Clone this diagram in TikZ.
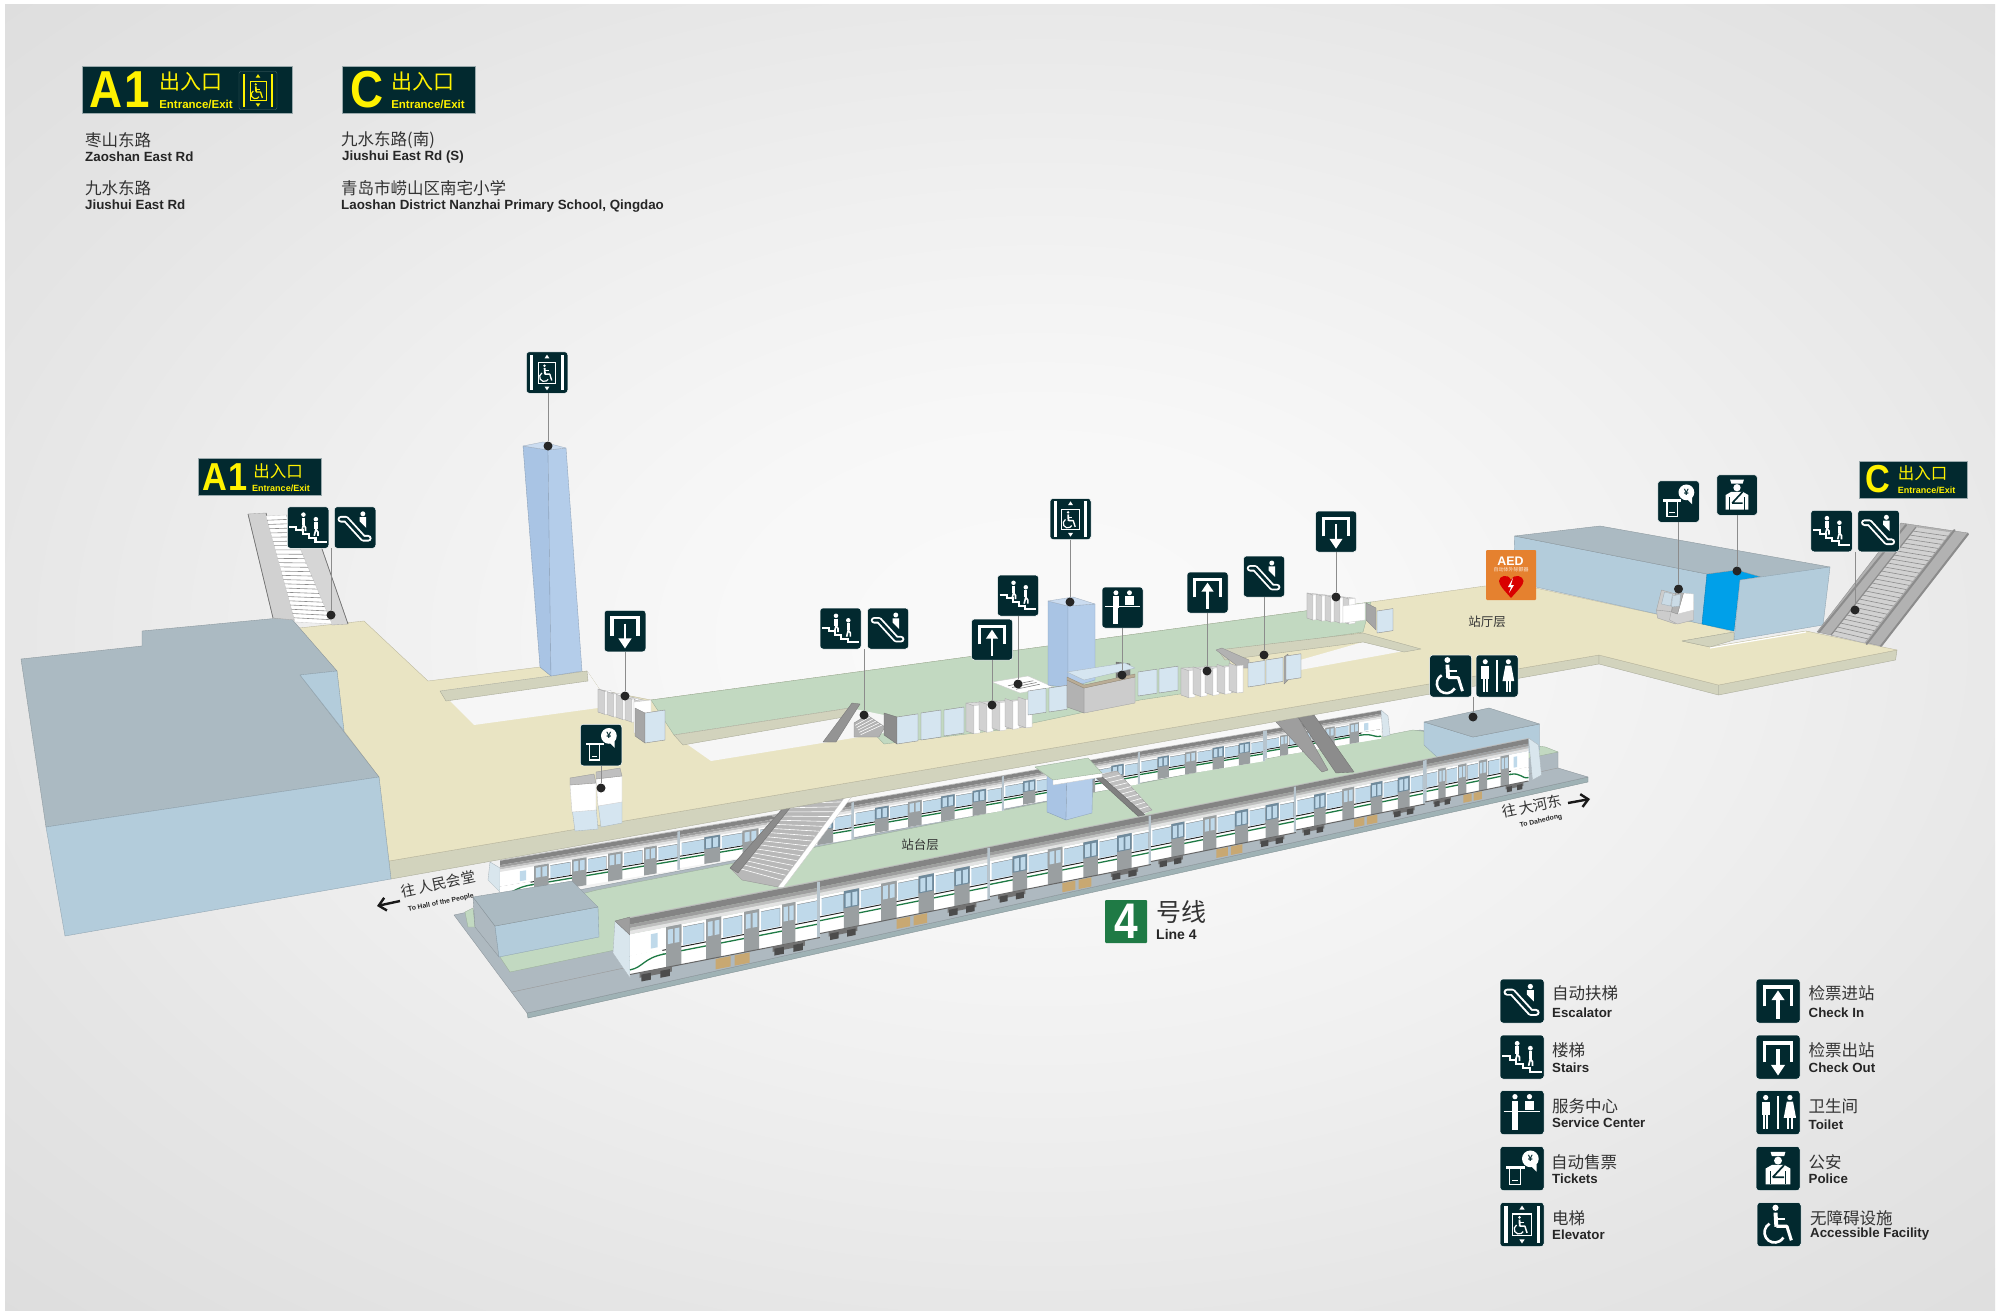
\documentclass[tikz,border=0pt]{standalone}
\usepackage{fontspec}
\setmainfont{Liberation Sans}
\newfontfamily\cjk{Noto Sans CJK SC}
\usetikzlibrary{arrows.meta,calc}
\definecolor{roofc}{HTML}{ABBAC2}
\definecolor{facec}{HTML}{B3CCDB}
\definecolor{floorc}{HTML}{E9E4C3}
\definecolor{floorside}{HTML}{D2D3BD}
\definecolor{greenc}{HTML}{C2D9C1}
\definecolor{elevc}{HTML}{A9C4E4}
\definecolor{elevb}{HTML}{B4CDEA}
\definecolor{signdark}{HTML}{02292F}
\definecolor{bedc}{HTML}{AEB9C0}
\definecolor{bedside}{HTML}{9FB2B5}
\definecolor{holec}{HTML}{F6F6F6}
\definecolor{winb}{HTML}{BFD9EA}
\definecolor{doorg}{HTML}{9A9FA1}
\definecolor{doorb}{HTML}{6F8A9C}
\definecolor{r1}{HTML}{BEBEBE}
\definecolor{r2}{HTML}{848484}
\definecolor{r3}{HTML}{9E9E9E}
\definecolor{r4}{HTML}{C0C0C0}
\definecolor{r5}{HTML}{E4E4E4}
\definecolor{linegreen}{HTML}{1F7A45}
\definecolor{ylw}{HTML}{FFF200}
\definecolor{boxbrown}{HTML}{C8A872}
\definecolor{glassc}{HTML}{D5E5F0}
\definecolor{aedc}{HTML}{E5812F}
\definecolor{blueop}{HTML}{00A0E9}
\colorlet{icf}{white}
\colorlet{icb}{signdark}
\pgfdeclareradialshading{bgsh}{\pgfpoint{0bp}{0bp}}{color(0bp)=(white!98!black); color(8bp)=(white!97!black); color(16bp)=(white!94!black); color(25bp)=(white!90!black); color(36bp)=(white!86!black); color(50bp)=(white!86!black)}
\tikzset{
  signbox/.style={fill=signdark,draw=white,line width=.5pt,rounded corners=3pt,inner sep=0pt,outer sep=0pt},
  wl/.style={line width=#1*\icu pt},
  leader/.style={draw=black!45,line width=.6pt},
  dotm/.style={circle,fill=black!85,minimum size=9pt,inner sep=0pt},
  ent/.style={fill=signdark,draw=white!60!signdark,line width=.3pt,inner sep=0pt},
  cn/.style={font=\cjk\fontsize{#1}{#1}\selectfont,inner sep=0pt,text=black!80},
  en/.style={font=\bfseries\fontsize{#1}{#1}\selectfont,inner sep=0pt,text=black!85},
  ycn/.style={font=\cjk\fontsize{#1}{#1}\selectfont,inner sep=0pt,text=ylw},
  yen/.style={font=\bfseries\fontsize{#1}{#1}\selectfont,inner sep=0pt,text=ylw},
}
\newcommand\pl[2]{\colorlet{pga}{#1}\colorlet{pgb}{pga!80!black}\filldraw[fill=pga,draw=pgb,line width=.35pt,line join=round] #2 -- cycle;}
\newcommand\qd[5]{\fill[#1] (#2,#3)--(#4,#3)--(#4,#5)--(#2,#5)--cycle;}
% ---- icons
\newcommand\iesc{%
 \draw[icf,wl=16,line join=round,line cap=round] (-34,-20)--(-22,-20)--(20,26)--(32,26);
 \draw[icb,wl=7,line join=round,line cap=round] (-34,-20)--(-22,-20)--(20,26)--(32,26);
 \fill[icf] (19,-33) circle (6);
 \fill[icf] (11,-25)--(27,-25)--(27,1)--(11,-15)--cycle;}
\newcommand\iwalk[2]{%
 \fill[icf] (#1,{#2-22}) circle (5.5);
 \draw[icf,wl=8] (#1,{#2-15})--(#1,{#2+2});
 \draw[icf,wl=4] (#1,{#2+2})--({#1-4},{#2+18}) (#1,{#2+2})--({#1+5},{#2+9})--({#1+5},{#2+18});}
\newcommand\istr{%
 \draw[icf,wl=5] (-45,-2)--(-28,-2)--(-28,7)--(-13,7)--(-13,16)--(2,16)--(2,25)--(18,25)--(18,34)--(45,34);
 \iwalk{-11}{-9}\iwalk{19}{2}}
\newcommand\iwc[1]{%
 \fill[icf] (-8,-38) circle (7);
 \draw[icf,line width=9*#1*\icu pt] (-8,-27)--(-6,5);
 \draw[icf,line width=7*#1*\icu pt,line join=round] (-6,4)--(18,4)--(28,36);
 \draw[icf,line width=5*#1*\icu pt] (-6,-12)--(14,-12);
 \draw[icf,line width=6*#1*\icu pt] ([shift={(240:23)}]-10,18) arc (240:30:23);}
\newcommand\iele{%
 \fill[icf] (-40,-43) rectangle (-33,43);
 \fill[icf] (33,-43) rectangle (40,43);
 \draw[icf,wl=2.5] (-21,-24) rectangle (21,26);
 \fill[icf] (0,-43)--(6,-34)--(-6,-34)--cycle;
 \fill[icf] (0,43)--(6,34)--(-6,34)--cycle;
 \begin{scope}[shift={(-2,2)},scale=.48]\iwc{.48}\end{scope}}
\newcommand\ifrm{\draw[icf,wl=8,line join=miter] (-31,12)--(-31,-32)--(31,-32)--(31,12);}
\newcommand\icin{\ifrm
 \draw[icf,wl=7] (0,40)--(0,-8);
 \fill[icf] (0,-24)--(15,-2)--(-15,-2)--cycle;}
\newcommand\icout{\ifrm
 \draw[icf,wl=7] (0,-18)--(0,22);
 \fill[icf] (0,42)--(-16,18)--(16,18)--cycle;}
\newcommand\isrv{%
 \fill[icf] (-16,-36) circle (6);
 \fill[icf] (-23,-27) rectangle (-9,2);
 \fill[icf] (-22,2) rectangle (-17,40);
 \fill[icf] (-15,2) rectangle (-10,40);
 \draw[icf,wl=3] (-42,-2)--(42,-2);
 \fill[icf] (17,-36) circle (6);
 \fill[icf] (7,-27) rectangle (27,-6);}
\newcommand\itlt{%
 \fill[icf] (-28,-34) circle (6);
 \fill[icf] (-37,-25) rectangle (-19,6);
 \fill[icf] (-34,6) rectangle (-29,38);
 \fill[icf] (-27,6) rectangle (-22,38);
 \draw[icf,wl=3] (0,-38)--(0,38);
 \fill[icf] (27,-34) circle (6);
 \fill[icf] (20,-25)--(34,-25)--(41,12)--(13,12)--cycle;
 \fill[icf] (21,12) rectangle (25.5,38);
 \fill[icf] (28.5,12) rectangle (33,38);}
\newcommand\ipol{%
 \fill[icf] (-14,-28)--(-17,-38)--(17,-38)--(14,-28)--cycle;
 \fill[icf] (0,-18) circle (9);
 \fill[icf] (-28,0)--(-14,-8)--(14,-8)--(28,0)--(28,36)--(-28,36)--cycle;
 \draw[icb,wl=4] (-12,20)--(14,-8) (-12,20)--(14,20);
 \draw[icb,wl=2.5] (-18,6)--(-18,36) (18,6)--(18,36);}
\newcommand\itvm{%
 \fill[icf] (-37,-6) rectangle (7,1);
 \draw[icf,wl=3] (-28,1)--(-28,36)--(-3,36)--(-3,1);
 \draw[icf,wl=2] (-22,27)--(-9,27);
 \fill[icf] (19,-22) circle (19);
 \fill[icf] (0,-26)--(33,-8)--(33,7)--cycle;
 \node[font=\bfseries\fontsize{9}{9}\selectfont,text=icb,inner sep=0pt] (\sgname-yen) at (19,-23) {¥};}
% sign: name, cx, cy, size, icon
\newcommand\sgn[5]{%
 \node[signbox,minimum width=#4 pt,minimum height=#4 pt] (#1) at (#2,#3) {};
 \def\sgname{#1}%
 \pgfmathsetmacro\icu{#4*.01}%
 \begin{scope}[shift={(#2,#3)},x=\icu pt,y=-\icu pt]#5\end{scope}}
% trains
\newcommand\tdoor[3]{%
 \pgfmathsetmacro\wa{#1+.12*(#2-#1)}\pgfmathsetmacro\wb{#1+.44*(#2-#1)}\pgfmathsetmacro\wc{#1+.56*(#2-#1)}\pgfmathsetmacro\wd{#1+.88*(#2-#1)}%
 \qd{doorg}{#1}{.30}{#2}{1}\qd{#3}{#1}{.30}{#2}{.62}\qd{winb}{\wa}{.35}{\wb}{.6}\qd{winb}{\wc}{.35}{\wd}{.6}}
\newcommand\twin[2]{\qd{winb}{#1}{.35}{#2}{.67}\draw[black!60,line width=.25pt] (#1,.35)--(#2,.35)--(#2,.67);}
\newcommand\tbody{%
 \qd{white}{0}{.30}{1}{1}%
 \qd{r1}{0}{0}{1}{.02}\qd{r2}{0}{.02}{1}{.13}\qd{r3}{0}{.13}{1}{.19}\qd{r4}{0}{.19}{1}{.24}\qd{r5}{0}{.24}{1}{.30}%
 \draw[black!85,line width=1pt] (0,.69)--(1,.69);
 \draw[linegreen,line width=1.3pt] (0,.76)--(1,.76);}
\newcommand\carreg{\tbody
 \twin{.01}{.14}\twin{.24}{.36}\twin{.46}{.58}\twin{.68}{.79}\twin{.89}{.985}%
 \tdoor{.14}{.23}{doorb}\tdoor{.36}{.45}{doorg}\tdoor{.58}{.67}{doorb}\tdoor{.79}{.88}{doorb}%
 \qd{doorb!50!white}{.985}{.03}{1}{1}}
\newcommand\carhead{\tbody
 \qd{white}{0}{.67}{.17}{1}%
 \draw[linegreen,line width=1.3pt] (0,.92) .. controls (.07,.92) and (.07,.76) .. (.18,.76);
 \qd{winb}{.11}{.37}{.145}{.62}%
 \twin{.28}{.39}\twin{.49}{.59}\twin{.69}{.79}\twin{.88}{.985}%
 \tdoor{.19}{.27}{doorg}\tdoor{.40}{.48}{doorg}\tdoor{.60}{.68}{doorg}\tdoor{.80}{.87}{doorg}%
 \qd{doorb!50!white}{.985}{.03}{1}{1}}
\newcommand\carund{%
 \draw[black!60,line width=1pt] (0,1)--(1,1);
 \qd{black!55}{.05}{1}{.22}{1.09}\qd{black!55}{.75}{1}{.92}{1.09}%
 \qd{black!70}{.06}{1.04}{.11}{1.16}\qd{black!70}{.16}{1.04}{.21}{1.16}\qd{black!70}{.76}{1.04}{.81}{1.16}\qd{black!70}{.86}{1.04}{.91}{1.16}%
 \qd{boxbrown}{.45}{1.02}{.53}{1.2}\qd{boxbrown}{.55}{1.02}{.63}{1.2}}
\newcommand\trcar[7]{%
 \pgfmathsetmacro\tdx{#4-#1}\pgfmathsetmacro\tdy{#5-#2}\pgfmathsetmacro\tth{(#3+#6)/2}%
 \begin{scope}[shift={(#1,#2)},x={(\tdx pt,-\tdy pt)},y={(0pt,-\tth pt)}]#7\end{scope}}
% stripes across a quad a,b,c,d: lines from a-d side to b-c side
\newcommand\stripes[6]{%
 \foreach \i in {1,...,#5}{\pgfmathsetmacro\tt{\i/(#5+1)}%
  \draw[#6,line width=.6pt] ($#1!\tt!#4$)--($#2!\tt!#3$);}}
\newcommand\gbank[8]{% x y n dx dy w1 w2 h
 \pgfmathsetmacro\Xe{#1+(#3-1)*#4+#6+#7}\pgfmathsetmacro\Ye{#2+(#3-1)*#5+#6*.35-#7*.15}%
 \pl{black!14}{(#1,#2)--(\Xe,\Ye)--(\Xe,{\Ye+#8})--(#1,{#2+#8})}
 \foreach \i in {1,...,#3}{%
  \pgfmathsetmacro\X{#1+(\i-1)*#4}\pgfmathsetmacro\Y{#2+(\i-1)*#5}%
  \pgfmathsetmacro\Xa{\X+#6}\pgfmathsetmacro\Ya{\Y+#6*.35}\pgfmathsetmacro\Xb{\Xa+#7}\pgfmathsetmacro\Yb{\Ya-#7*.15}%
  \pl{black!18}{(\X,\Y)--(\Xa,\Ya)--(\Xa,{\Ya+#8})--(\X,{\Y+#8})}
  \pl{white}{(\Xa,\Ya)--(\Xb,\Yb)--(\Xb,{\Yb+#8})--(\Xa,{\Ya+#8})}
 }}
\newcommand\gl[4]{\filldraw[fill=glassc,draw=black!45,line width=.4pt,line join=round] (#1,#2)--({#1+#3},{#2-.15*#3})--({#1+#3},{#2-.15*#3+#4})--(#1,{#2+#4})--cycle;}
\begin{document}
\begin{tikzpicture}[x=1pt,y=-1pt]
\useasboundingbox (0,0) rectangle (2000,1316);
\fill[white] (0,0) rectangle (2000,1316);
\begin{scope}
 \clip (5,5) rectangle (1995,1310);
 \shade[shading=bgsh] (-40,-60) rectangle (2120,1340);
\end{scope}
% ===== platform level
\pl{bedside}{(527,1013)--(528,1018)--(1588,782)--(1588,777)}
\pl{bedc}{(454,915)--(527,1013)--(1588,777)--(1558,768)--(1558,752)--(1420,730)--(500,905)}
\draw[black!40,line width=.4pt] (512,992)--(1558,768);
\pl{greenc}{(465,912)--(473,908)--(475,927)--(468,927)}
\pl{greenc}{(500,957)--(510,972)--(1558,752)--(1545.5,747)--(1413,730)--(597,890)--(500,915)}
% train 1
\pl{facec!50!white}{(490,862)--(488,880)--(500,892)--(500,868)}
\trcar{500}{860}{40}{680}{830}{39}{\carhead}
\trcar{680}{830}{39}{854}{801}{37}{\carreg}
\trcar{854}{801}{37}{1004}{775}{34}{\carreg}
\trcar{1004}{775}{34}{1140}{751}{32}{\carreg}
\trcar{1140}{751}{32}{1265}{730}{30}{\carreg}
\trcar{1381}{710}{27}{1265}{730}{30}{\carhead}
\pl{facec!50!white}{(1381,710)--(1388,716)--(1390,735)--(1383,737)}
% lower shaft
\pl{elevc}{(1047,768)--(1067,768)--(1066,820)--(1047,812)}
\pl{elevb}{(1067,768)--(1093,763)--(1092,813)--(1066,820)}
% small stair
\pl{white}{(1093,775)--(1117,771)--(1152,810)--(1140,816)}
\pl{black!25}{(1100,775)--(1117,771)--(1152,810)--(1143,813)}
\stripes{(1100,775)}{(1117,771)}{(1152,810)}{(1143,813)}{9}{white}
\pl{black!50}{(1093,775)--(1100,775)--(1145,815)--(1139,817)}
\pl{white}{(1035,767)--(1053,780)--(1053,785)--(1102,777)--(1102,773)}
\pl{greenc}{(1035,767)--(1088,758)--(1102,773)--(1053,780)}
% escalators platform - concourse right
\pl{black!38}{(1276,722)--(1298,717)--(1328,770)--(1322,772)}
\pl{black!45}{(1298,717)--(1314,715)--(1354,772)--(1336,773)}
% big stair
\pl{white}{(783,808)--(853,795)--(778,887)--(760,880)}
\pl{black!28}{(730,868)--(783,808)--(845,797)--(778,887)--(742,880)}
\stripes{(735,872)}{(778,885)}{(845,797)}{(783,800)}{17}{white}
\pl{black!45}{(730,868)--(785,806)--(790,808)--(738,873)}
\pl{white}{(778,887)--(845,797)--(853,795)--(783,888)}
% left platform box
\pl{bedc}{(473,897)--(495,926)--(499,957)--(475,927)}
\pl{facec}{(495,926)--(598,907)--(599,937)--(499,957)}
\pl{roofc}{(473,897)--(572,881)--(598,907)--(495,926)}
% right platform box
\pl{facec}{(1424,722)--(1473,737)--(1539.5,724)--(1539.5,750)--(1451,770)--(1424,745)}
\pl{roofc}{(1424,722)--(1489,708)--(1539.5,724)--(1473,737)}
% train 2
\pl{facec!50!white}{(615,921)--(613,953)--(630,978)--(630,935)}
\pl{r3}{(615,921)--(630,917)--(630,935)}
\trcar{630}{917}{60}{820}{880}{55}{\carhead\carund}
\trcar{820}{880}{55}{990}{846}{52}{\carreg\carund}
\trcar{990}{846}{52}{1151}{814}{49}{\carreg\carund}
\trcar{1151}{814}{49}{1296}{785}{46}{\carreg\carund}
\trcar{1296}{785}{46}{1425}{759}{44}{\carreg\carund}
\trcar{1528.5}{738}{42}{1425}{759}{44}{\carhead\carund}
\pl{facec!50!white}{(1528.5,738)--(1538.5,745)--(1541.5,775)--(1532.5,780)}
% ===== concourse floor
\pl{floorside}{(389,861)--(1599,655)--(1599,664)--(391,879)}
\pl{floorside}{(1599,655)--(1718.5,685)--(1718.5,695)--(1599,664)}
\pl{floorside}{(1718.5,685)--(1897,650)--(1895.5,660)--(1718.5,695)}
\pl{floorc}{(299,628)--(364,621)--(428,681)--(540,667)--(551,676)--(587,671)--(600,690)--(651,700)--(1371,602)--(1485,586)--(1535.5,588)--(1702,624)--(1734,632)--(1682,641)--(1710,647)--(1806,631)--(1897,650)--(1718.5,685)--(1599,655)--(389,861)--(379,777)--(344,731)--(337,671)}
% holes
\fill[holec] (440,691)--(474,725)--(598,708)--(600,690)--(587,671)--cycle;
\pl{floorside}{(440,691)--(587,671)--(588,681)--(446,701)}
\pl{greenc}{(651,700)--(1371,602)--(1363,632)--(1225,652)--(1240,685)--(1140,700)--(1085,712)--(1000,730)--(884,744)--(850,708)--(674,735)}
\fill[holec] (674,735)--(711,761)--(884,733)--(884,715)--(850,708)--cycle;
\pl{floorside}{(674,735)--(850,708)--(850,716)--(683,745)}
\fill[holec] (1300,660)--(1363,642)--(1404,651)--(1300,670)--cycle;
\pl{floorside}{(1218,650)--(1363,633)--(1421,649)--(1404,652)--(1363,642)--(1225,660)}
\pl{floorside}{(1682,641)--(1734,632)--(1734,640)--(1710,647)}
\draw[white,line width=1.2pt] (1710,648)--(1806,632);
% service stair hole
\pl{white}{(992,682)--(1028,676)--(1053,687)--(1020,693)}
\stripes{(1004,684)}{(1030,679)}{(1043,686)}{(1020,691)}{3}{black!50}
% escalator in hole 1
\pl{black!30}{(854,723)--(867,715)--(885,727)--(879,737)--(854,737)}
\stripes{(854,723)}{(867,715)}{(885,727)}{(862,737)}{5}{white}
\pl{black!42}{(823,742)--(852,703)--(860,704)--(836,742)}
% ===== left block
\pl{roofc}{(21,659)--(142,646)--(142,631)--(290,617)--(337,671)--(300,675)--(379,777)--(46,827)}
\pl{facec}{(300,675)--(337,671)--(344,731)}
\pl{facec}{(46,827)--(379,777)--(391,879)--(65,936)}
% left stairs
\pl{black!18}{(248,514)--(266,513)--(295,620)--(273,618)}
\pl{black!16}{(286,515)--(312,520)--(348,624)--(332,625)}
\draw[black!55,line width=.7pt] (248,514)--(273,618) (266,513)--(295,620) (312,520)--(348,624);
\pl{white}{(266,516)--(286,515)--(332,624)--(295,622)}
\stripes{(266,516)}{(286,515)}{(332,624)}{(295,622)}{24}{black!45}
% left elevator
\pl{elevc}{(523,446)--(548,450)--(551,676)--(540,667)}
\pl{elevb}{(548,450)--(566,448)--(582,671)--(551,676)}
\pl{elevb!70!white}{(523,446)--(543,442)--(566,448)--(548,450)}
% right building
\pl{facec}{(1514.5,536)--(1707,574)--(1702,624)--(1513.5,582)}
\pl{blueop}{(1707,574)--(1737,570)--(1764.5,576)--(1740,580)--(1734,631)--(1702,624)}
\pl{roofc}{(1514.5,536)--(1600,526)--(1830,567)--(1764.5,578)--(1737,570)--(1707,574)}
\pl{facec}{(1740,580)--(1830,567)--(1823,625)--(1734,640)}
% right escalator
\pl{black!30}{(1817,632)--(1881,646)--(1968,533)--(1901,523)}
\pl{black!18}{(1831,635)--(1864.7,643)--(1951,532)--(1916,527)}
\stripes{(1831,635)}{(1864.7,643)}{(1951,532)}{(1916,527)}{26}{black!45}
\draw[black!45,line width=2pt,line cap=round] (1819,632)--(1906,525) (1866.6,644)--(1954.5,530) (1881,646)--(1968,534);
\draw[black!45,line width=1.2pt] (1831,635)--(1916,527);
% central elevator
\pl{elevc}{(1048,601)--(1068,606)--(1068,688)--(1048,685)}
\pl{elevb}{(1068,606)--(1095,604)--(1095,680)--(1068,688)}
\pl{elevb!70!white}{(1048,601)--(1073,597)--(1095,604)--(1068,606)}
% gates left
\gbank{598}{689}{5}{9}{2.6}{7}{6}{23}
\pl{white}{(634,702)--(651,700)--(651,732)--(634,733)}
\pl{black!35}{(635,708)--(645,713)--(645,743)--(635,736)}
\gl{645}{713}{20}{30}
% ticket machines left
\pl{glassc}{(572,808)--(596,806)--(598,829)--(575,831)}
\pl{white}{(570,785)--(596,783)--(596,810)--(572,812)}
\pl{black!25}{(570,778)--(594,774)--(596,783)--(570,785)}
\pl{glassc}{(598,803)--(622,800)--(622,823)--(601,827)}
\pl{white}{(596,779)--(622,776)--(622,802)--(598,806)}
\pl{black!25}{(596,772)--(620,768)--(622,776)--(596,779)}
% gates line
\pl{black!45}{(884,713)--(897,717)--(897,744)--(884,735)}
\gl{897}{717}{21}{27}\gl{921}{713}{20}{27}\gl{944}{710}{20}{26}
\gbank{966}{703}{5}{13}{-1.5}{8}{6}{28}
\gl{1028}{691}{18}{24}\gl{1049}{688}{18}{24}
% service desk
\pl{black!50}{(1116,662)--(1130,664)--(1130,680)--(1116,678)}
\pl{black!20}{(1084,688)--(1135,677)--(1135,703)--(1084,713)}
\pl{black!30}{(1067,680)--(1084,688)--(1084,713)--(1067,707)}
\pl{glassc}{(1067,672)--(1125,663)--(1135,668)--(1084,680)}
\pl{boxbrown!70!black!60}{(1067,677)--(1084,685)--(1135,674)--(1135,677)--(1084,688)--(1067,680)}
\gl{1138}{672}{19}{24}\gl{1159}{669}{19}{24}
% escalator top 2
\pl{black!30}{(1216,650)--(1222,648)--(1249,660)--(1249,668)--(1240,668)}
% gates 2
\gbank{1181}{668}{5}{12}{-1.2}{8}{6}{27}
\gl{1248}{663}{17}{24}\gl{1266}{660}{17}{24}
\pl{black!35}{(1284,657)--(1288,654)--(1288,680)--(1284,684)}
\gl{1286}{656}{15}{24}
% gates 3
\gbank{1307}{593}{5}{9}{1}{6}{6}{25}
\pl{white}{(1343,606)--(1365,603)--(1365,620)--(1343,623)}
\pl{black!35}{(1366,603)--(1376,608)--(1376,630)--(1366,620)}
\gl{1377}{611}{16}{22}
% right TVMs
\pl{black!20}{(1656.5,610)--(1675.5,612)--(1675.5,624)--(1657.5,618)}
\pl{black!20}{(1661.5,590)--(1675.5,594)--(1675.5,612)--(1656.5,610)}
\pl{facec!70!white}{(1664.5,592)--(1672.5,594)--(1670.5,606)--(1661.5,604)}
\pl{black!18}{(1672.5,605)--(1693.5,602)--(1693.5,620)--(1677.5,624)--(1669.5,620)}
\pl{white}{(1683.5,593)--(1693.5,594)--(1693.5,610)--(1677.5,614)}
\pl{black!30}{(1675.5,593)--(1683.5,593)--(1677.5,614)--(1671.5,612)}
\pl{facec!70!white}{(1672.5,596)--(1680.5,594)--(1679.5,606)--(1671.5,607)}
% AED
\node[fill=aedc,minimum width=50pt,minimum height=50pt,inner sep=0pt,rounded corners=1pt] (aed) at (1511,575) {};
\node[font=\bfseries\fontsize{12.4}{12.4}\selectfont,text=white,inner sep=0pt] (aedt) at (1510.5,561) {AED};
\node[font=\cjk\fontsize{5}{5}\selectfont,text=white!80!aedc,inner sep=0pt] (aedc2) at (1511,570) {自动体外除颤器};
\fill[red!85!black] (1511,598) .. controls (1504,590) and (1499,585) .. (1499,581) .. controls (1499,576) and (1508,573) .. (1511,580) .. controls (1514,573) and (1523.5,576) .. (1523.5,581) .. controls (1523.5,585) and (1518,590) .. (1511,598) -- cycle;
\fill[white] (1513,578)--(1508,587)--(1511,587)--(1509,593)--(1514,585)--(1511,585)--cycle;
% floor labels
\node[cn=12.5] (lbhall) at (1487,622) {站厅层};
\node[cn=12.5] (lbplat) at (920,845) {站台层};
% direction labels
\node[cn=14.5,rotate=12] (dirl) at (438,884) {往 人民会堂};
\node[en=6.8,rotate=12] (dirle) at (441,903) {To Hall of the People};
\coordinate (arla) at (400,901);
\coordinate (arlb) at (377,906);
\draw[black!90,line width=2.4pt,-{Straight Barb[length=7pt,width=13pt]}] (arla)--(arlb);
\node[cn=14.5,rotate=12] (dirr) at (1532,806) {往 大河东};
\node[en=6.8,rotate=12] (dirre) at (1541,821) {To Dahedong};
\coordinate (arra) at (1568,803);
\coordinate (arrb) at (1590,799);
\draw[black!90,line width=2.4pt,-{Straight Barb[length=7pt,width=13pt]}] (arra)--(arrb);
% line 4
\node[fill=linegreen,minimum width=42pt,minimum height=43pt,rounded corners=1pt,inner sep=0pt] (l4) at (1126,921.5) {};
\node[text=white,font=\bfseries\fontsize{50}{50}\selectfont,xscale=.85,inner sep=0pt] (l4n) at (1126,921.5) {4};
\node[cn=25,anchor=west] (l4c) at (1156,912) {号线};
\node[en=14,anchor=west] (l4e) at (1156,934) {Line 4};
% ===== leaders & signs
\node[dotm] (d1) at (331,615) {};
\node[dotm] (d2) at (548,446) {};
\node[dotm] (d3) at (625,696) {};
\node[dotm] (d4) at (601,788) {};
\node[dotm] (d5) at (864,715) {};
\node[dotm] (d6) at (1018,684) {};
\node[dotm] (d7) at (992,705) {};
\node[dotm] (d8) at (1070,602) {};
\node[dotm] (d9) at (1122,675) {};
\node[dotm] (d10) at (1207,671) {};
\node[dotm] (d11) at (1264,655) {};
\node[dotm] (d12) at (1336,597) {};
\node[dotm] (d13) at (1473,717) {};
\node[dotm] (d14) at (1678.5,589) {};
\node[dotm] (d15) at (1737,571) {};
\node[dotm] (d16) at (1855,610) {};
\sgn{s1a}{308}{527.5}{41.5}{\istr}
\sgn{s1b}{355}{527.5}{41.5}{\iesc}
\sgn{s2}{547}{372.5}{41.5}{\iele}
\sgn{s3}{625}{631}{41.5}{\icout}
\sgn{s4}{601}{745}{41.5}{\itvm}
\sgn{s5a}{840.5}{628.5}{41}{\istr}
\sgn{s5b}{888}{628.5}{41}{\iesc}
\sgn{s6}{1018}{595.5}{41}{\istr}
\sgn{s7}{992}{639.5}{41}{\icin}
\sgn{s8}{1070.5}{519}{41}{\iele}
\sgn{s9}{1122.5}{607.5}{41}{\isrv}
\sgn{s10}{1207.5}{592.5}{41}{\icin}
\sgn{s11}{1264}{576.5}{41}{\iesc}
\sgn{s12}{1336}{531.5}{41}{\icout}
\sgn{s13a}{1450.7}{676}{42}{\iwc{1}}
\sgn{s13b}{1497}{676}{42}{\itlt}
\sgn{s14}{1678.5}{501.5}{41.5}{\itvm}
\sgn{s15}{1737}{495}{40.5}{\ipol}
\sgn{s16a}{1831.5}{531}{41.5}{\istr}
\sgn{s16b}{1878.5}{531}{41.5}{\iesc}
\draw[leader] (d1 |- s1a.south)--(d1);
\draw[leader] (d2 |- s2.south)--(d2);
\draw[leader] (d3 |- s3.south)--(d3);
\draw[leader] (d4 |- s4.south)--(d4);
\draw[leader] (d5 |- s5a.south)--(d5);
\draw[leader] (d6 |- s6.south)--(d6);
\draw[leader] (d7 |- s7.south)--(d7);
\draw[leader] (d8 |- s8.south)--(d8);
\draw[leader] (d9 |- s9.south)--(d9);
\draw[leader] (d10 |- s10.south)--(d10);
\draw[leader] (d11 |- s11.south)--(d11);
\draw[leader] (d12 |- s12.south)--(d12);
\draw[leader] (d13 |- s13a.south)--(d13);
\draw[leader] (d14 |- s14.south)--(d14);
\draw[leader] (d15 |- s15.south)--(d15);
\draw[leader] (d16 |- s16a.south)--(d16);
% ===== entrance signs
\node[ent,minimum width=210pt,minimum height=47pt] (ea) at (187,89.5) {};
\node[yen=52,xscale=.88] (eaa) at (120,90) {A\kern2pt 1};
\node[ycn=21] (eab) at (191,82) {出入口};
\node[yen=11.5] (eac) at (196,104.5) {Entrance/Exit};
\begin{scope}
 \colorlet{icf}{ylw}
 \node[draw=white!30!signdark,fill=signdark,rounded corners=2pt,minimum width=38pt,minimum height=38pt,inner sep=0pt] (eai) at (258,90.5) {};
 \pgfmathsetmacro\icu{.38}
 \begin{scope}[shift={(258,90.5)},x=.38pt,y=-.38pt]\iele\end{scope}
\end{scope}
\node[ent,minimum width=133pt,minimum height=47pt] (ec) at (408.5,89.5) {};
\node[yen=52,xscale=.88] (eca) at (367,90) {C};
\node[ycn=21] (ecb) at (423,82) {出入口};
\node[yen=11.5] (ecc) at (428,104.5) {Entrance/Exit};
\node[ent,minimum width=123pt,minimum height=37pt] (sa) at (259.5,477) {};
\node[yen=39,xscale=.88] (saa) at (225,477.5) {A\kern2pt 1};
\node[ycn=16.5] (sab) at (278,471) {出入口};
\node[yen=9] (sac) at (281,488) {Entrance/Exit};
\node[ent,minimum width=108pt,minimum height=37pt] (sc) at (1913.5,479.5) {};
\node[yen=39,xscale=.88] (sca) at (1878,479.5) {C};
\node[ycn=16.5] (scb) at (1922.5,473) {出入口};
\node[yen=9] (scc) at (1926.5,490.5) {Entrance/Exit};
% top texts
\node[cn=16.5,anchor=west] (t1) at (85,140) {枣山东路};
\node[en=13.35,anchor=west] (t2) at (85,157) {Zaoshan East Rd};
\node[cn=16.5,anchor=west] (t3) at (85,188.5) {九水东路};
\node[en=13.35,anchor=west] (t4) at (85,205) {Jiushui East Rd};
\node[cn=16.5,anchor=west] (t5) at (341,140) {九水东路(南)};
\node[en=13.35,anchor=west] (t6) at (342,157.5) {Jiushui East Rd (S)};
\node[cn=16.5,anchor=west] (t7) at (341,188.5) {青岛市崂山区南宅小学};
\node[en=13.35,anchor=west] (t8) at (341,206.5) {Laoshan District Nanzhai Primary School, Qingdao};
% legend
\sgn{k1}{1522}{1001}{44}{\iesc}
\sgn{k2}{1522}{1057}{44}{\istr}
\sgn{k3}{1522}{1112.5}{44}{\isrv}
\sgn{k4}{1522}{1168.5}{44}{\itvm}
\sgn{k5}{1522}{1224.5}{44}{\iele}
\sgn{k6}{1778}{1001}{44}{\icin}
\sgn{k7}{1778}{1057}{44}{\icout}
\sgn{k8}{1778}{1112.5}{44}{\itlt}
\sgn{k9}{1778}{1168.5}{44}{\ipol}
\sgn{k10}{1779}{1224.5}{44}{\iwc{1}}
\node[cn=16.5,anchor=west] (k1c) at (1552,993.5) {自动扶梯};
\node[en=13.3,anchor=west] (k1e) at (1552,1012.5) {Escalator};
\node[cn=16.5,anchor=west] (k2c) at (1552,1050.5) {楼梯};
\node[en=13.3,anchor=west] (k2e) at (1552,1067.5) {Stairs};
\node[cn=16.5,anchor=west] (k3c) at (1552,1106.5) {服务中心};
\node[en=13.3,anchor=west] (k3e) at (1552,1122.5) {Service Center};
\node[cn=16.5,anchor=west] (k4c) at (1551,1162.5) {自动售票};
\node[en=13.3,anchor=west] (k4e) at (1552,1178.5) {Tickets};
\node[cn=16.5,anchor=west] (k5c) at (1552,1218.5) {电梯};
\node[en=13.3,anchor=west] (k5e) at (1552,1234.5) {Elevator};
\node[cn=16.5,anchor=west] (k6c) at (1808.5,993.5) {检票进站};
\node[en=13.3,anchor=west] (k6e) at (1808.5,1012.5) {Check In};
\node[cn=16.5,anchor=west] (k7c) at (1808.5,1050.5) {检票出站};
\node[en=13.3,anchor=west] (k7e) at (1808.5,1067.5) {Check Out};
\node[cn=16.5,anchor=west] (k8c) at (1808.5,1106.5) {卫生间};
\node[en=13.3,anchor=west] (k8e) at (1808.5,1124.5) {Toilet};
\node[cn=16.5,anchor=west] (k9c) at (1808.5,1162.5) {公安};
\node[en=13.3,anchor=west] (k9e) at (1808.5,1178.5) {Police};
\node[cn=16.5,anchor=west] (k10c) at (1810,1218.5) {无障碍设施};
\node[en=13.3,anchor=west] (k10e) at (1810,1234.5) {Accessible Facility};
\end{tikzpicture}
\end{document}
